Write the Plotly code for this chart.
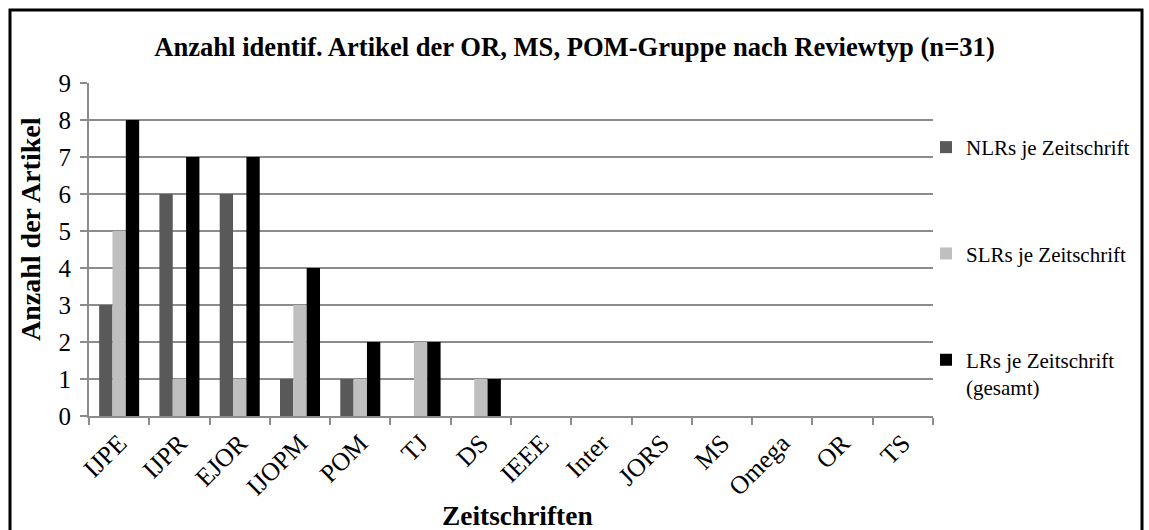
import plotly.graph_objects as go

categories = ["IJPE", "IJPR", "EJOR", "IJOPM", "POM", "TJ", "DS", "IEEE",
              "Inter", "JORS", "MS", "Omega", "OR", "TS"]
nlr_values = [3, 6, 6, 1, 1, 0, 0, 0, 0, 0, 0, 0, 0, 0]
slr_values = [5, 1, 1, 3, 1, 2, 1, 0, 0, 0, 0, 0, 0, 0]
lr_values = [8, 7, 7, 4, 2, 2, 1, 0, 0, 0, 0, 0, 0, 0]
series_names = ["NLRs je Zeitschrift", "SLRs je Zeitschrift",
                "LRs je Zeitschrift<br>(gesamt)"]
series_colors = ["#595959", "#bfbfbf", "#000000"]
y_ticks = [0, 1, 2, 3, 4, 5, 6, 7, 8, 9]

FONT = "Liberation Serif, Times New Roman, serif"
W, H = 1149, 530
L, R, T, B = 89, 2, 83, 114
PLOT_RIGHT = 933
pw, ph = W - L - R, H - T - B

fig = go.Figure()
for i, (name, vals, col) in enumerate(zip(series_names,
                                          [nlr_values, slr_values, lr_values],
                                          series_colors)):
    fig.add_trace(go.Bar(x=categories, y=vals, name=name,
                         marker=dict(color=col, line=dict(width=0)),
                         legendgroup=f"g{i}"))

def px_x(p):
    return (p - L) / pw

def px_y(p):
    return (H - B - p) / ph

fig.update_layout(
    width=W, height=H,
    margin=dict(l=L, r=R, t=T, b=B),
    paper_bgcolor="white", plot_bgcolor="white",
    font=dict(family=FONT, color="black"),
    barmode="group", bargap=0.336, bargroupgap=0,
    title=dict(text="<b>Anzahl identif. Artikel der OR, MS, POM-Gruppe nach Reviewtyp (n=31)</b>",
               x=574.5 / W, xref="container", xanchor="center",
               y=1 - 47 / H, yref="container", yanchor="middle",
               font=dict(family=FONT, size=26.6, color="black")),
    xaxis=dict(domain=[0, px_x(PLOT_RIGHT)],
               showline=True, linecolor="#8c8c8c", linewidth=2,
               ticks="outside", tickson="boundaries", ticklen=7,
               tickcolor="#8c8c8c", tickwidth=2,
               tickangle=-45, tickfont=dict(family=FONT, size=25.5, color="black"),
               showgrid=False, fixedrange=True, automargin=False),
    yaxis=dict(range=[0, 9], tickvals=y_ticks, showline=True,
               linecolor="#8c8c8c", linewidth=2,
               ticks="outside", ticklen=7, tickcolor="#8c8c8c", tickwidth=2,
               showgrid=True, gridcolor="#8c8c8c", gridwidth=1.5,
               zeroline=False, automargin=False,
               tickfont=dict(family=FONT, size=25, color="black"),
               ticklabelstandoff=4),
    legend=dict(x=px_x(926), xanchor="left", y=px_y(127), yanchor="top",
                font=dict(family=FONT, size=21, color="black"),
                tracegroupgap=76, valign="top", itemwidth=30,
                bgcolor="rgba(0,0,0,0)"),
    showlegend=True,
)

fig.add_annotation(text="<b>Zeitschriften</b>", xref="paper", yref="paper",
                   x=px_x(517), y=px_y(516), xanchor="center", yanchor="middle",
                   showarrow=False, font=dict(family=FONT, size=27.4, color="black"))
fig.add_annotation(text="<b>Anzahl der Artikel</b>", xref="paper", yref="paper",
                   x=px_x(30), y=px_y(229), xanchor="center", yanchor="middle",
                   textangle=-90, showarrow=False,
                   font=dict(family=FONT, size=28, color="black"))

fig.add_shape(type="rect", xref="paper", yref="paper",
              x0=px_x(10), x1=px_x(1142), y0=px_y(560), y1=px_y(10),
              line=dict(color="black", width=3), fillcolor="rgba(0,0,0,0)",
              layer="above")

fig.write_html("out.html", config={"displayModeBar": False})

with open("out.html", "r", encoding="utf-8") as f:
    html = f.read()
html = html.replace("<head>",
                    "<head><style>html,body{margin:0;padding:0;overflow:hidden;}</style>", 1)
with open("out.html", "w", encoding="utf-8") as f:
    f.write(html)
